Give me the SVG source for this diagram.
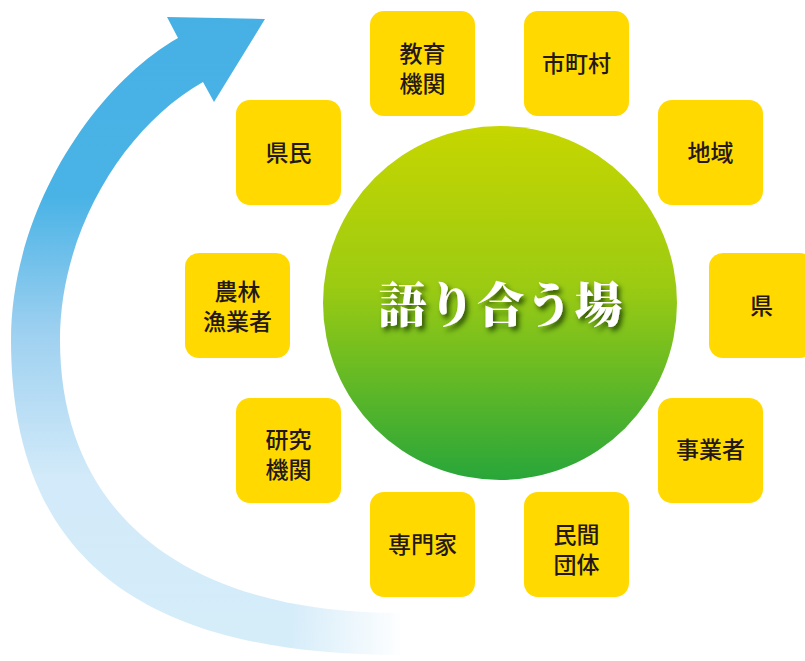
<svg xmlns="http://www.w3.org/2000/svg" width="805" height="661" viewBox="0 0 805 661">
<defs>
<linearGradient id="arrowGrad" gradientUnits="userSpaceOnUse" x1="0" y1="0" x2="0" y2="661">
<stop offset="0" stop-color="#46b0e5"/>
<stop offset="0.3" stop-color="#4ab3e6"/>
<stop offset="0.5" stop-color="#9dd0f0"/>
<stop offset="0.72" stop-color="#d2eaf9"/>
<stop offset="1" stop-color="#d6edf9"/>
</linearGradient>
<linearGradient id="fadeGrad" gradientUnits="userSpaceOnUse" x1="290" y1="0" x2="405" y2="0">
<stop offset="0" stop-color="#fff"/>
<stop offset="1" stop-color="#000"/>
</linearGradient>
<mask id="fade" maskUnits="userSpaceOnUse" x="0" y="0" width="805" height="661">
<rect width="805" height="661" fill="url(#fadeGrad)"/>
</mask>
<linearGradient id="circGrad" x1="0" y1="0" x2="0" y2="1">
<stop offset="0" stop-color="#c6d600"/>
<stop offset="0.45" stop-color="#9ccb12"/>
<stop offset="1" stop-color="#28a63a"/>
</linearGradient>
<filter id="shadow" x="-10%" y="-30%" width="120%" height="160%">
<feDropShadow dx="3" dy="4" stdDeviation="2.5" flood-color="#1f3a00" flood-opacity="0.8"/>
</filter>
<style>
.box{fill:#ffd900}
.lbl{font-family:"Noto Sans CJK JP","Noto Sans CJK SC",sans-serif;font-size:23px;font-weight:500;fill:#231815;text-anchor:middle;dominant-baseline:central}
.title{font-family:"Noto Serif CJK JP","Noto Sans CJK JP",serif;font-size:48px;font-weight:900;fill:#ffffff;text-anchor:middle;dominant-baseline:central;letter-spacing:1px}
</style>
</defs>

<g id="cycle-arrow" mask="url(#fade)">
<path fill="url(#arrowGrad)" d="M178 38 L167 17 L265 19 L214 102 L203 82 C125 126 60 230 60 340 C60 510 180 613 400 613 L400 655 C120 655 11 540 11 340 C11 210 95 85 178 38 Z"/>
</g>

<g id="center">
<circle cx="500" cy="303" r="177" fill="url(#circGrad)"/>
<text class="title" x="501" y="301" filter="url(#shadow)">語り合う場</text>
</g>

<g id="n-kyoiku"><rect class="box" x="370" y="11" width="105" height="105" rx="14"/><text class="lbl"><tspan x="422.5" y="52">教育</tspan><tspan x="422.5" y="82">機関</tspan></text></g>
<g id="n-shichoson"><rect class="box" x="524" y="11" width="105" height="105" rx="14"/><text class="lbl" x="576.5" y="62">市町村</text></g>
<g id="n-kenmin"><rect class="box" x="236" y="100" width="105" height="105" rx="14"/><text class="lbl" x="288.5" y="151">県民</text></g>
<g id="n-chiiki"><rect class="box" x="658" y="100" width="105" height="105" rx="14"/><text class="lbl" x="710.5" y="151">地域</text></g>
<g id="n-norin"><rect class="box" x="185" y="253" width="105" height="105" rx="14"/><text class="lbl"><tspan x="237.5" y="290">農林</tspan><tspan x="237.5" y="320">漁業者</tspan></text></g>
<g id="n-ken"><rect class="box" x="709" y="253" width="105" height="105" rx="14"/><text class="lbl" x="761.5" y="304">県</text></g>
<g id="n-kenkyu"><rect class="box" x="236" y="398" width="105" height="105" rx="14"/><text class="lbl"><tspan x="288.5" y="438">研究</tspan><tspan x="288.5" y="468">機関</tspan></text></g>
<g id="n-jigyosha"><rect class="box" x="658" y="398" width="105" height="105" rx="14"/><text class="lbl" x="710.5" y="448">事業者</text></g>
<g id="n-senmonka"><rect class="box" x="370" y="492" width="105" height="105" rx="14"/><text class="lbl" x="422.5" y="543">専門家</text></g>
<g id="n-minkan"><rect class="box" x="524" y="492" width="105" height="105" rx="14"/><text class="lbl"><tspan x="576.5" y="533">民間</tspan><tspan x="576.5" y="563">団体</tspan></text></g>
</svg>
